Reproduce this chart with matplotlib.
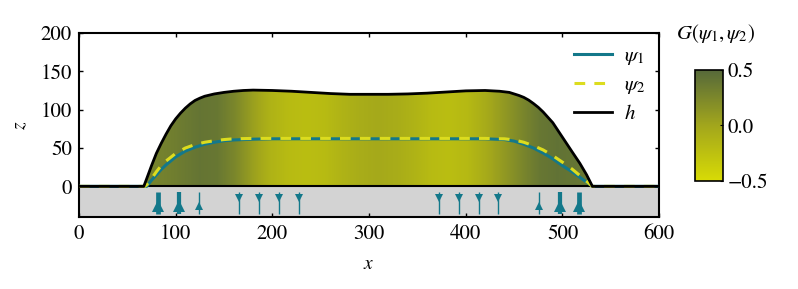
import numpy as np
import matplotlib
matplotlib.use("Agg")
import matplotlib.pyplot as plt
from matplotlib.colors import LinearSegmentedColormap, Normalize
from matplotlib.patches import Polygon

plt.rcParams['font.family'] = ['STIXGeneral', 'Liberation Serif', 'DejaVu Serif']
plt.rcParams['mathtext.fontset'] = 'stix'

# ---- data ----
h_x = [0, 60, 67, 70, 75, 80, 85, 90, 95, 100, 105, 110, 115, 120, 125, 130, 140, 150, 160,
       170, 180, 200, 220, 240, 260, 280, 300, 320, 340, 360, 380, 400, 420, 435, 445, 450,
       455, 460, 465, 470, 475, 480, 490, 500, 510, 518, 525, 531, 540, 600]
h_z = [0, 0, 0, 10, 27, 43, 56, 68, 79, 88, 95.5, 102, 107.5, 112, 115, 117.5, 120.5, 122.5,
       124, 125, 125.5, 125, 124, 122.5, 121, 120, 120, 120, 120.5, 121.5, 123, 124.5, 125,
       124, 122.5, 120.5, 118.5, 116, 112.5, 108, 103, 97, 83, 64, 45, 30, 15, 0, 0, 0]

psi_x = [0, 68, 70, 75, 80, 85, 90, 100, 110, 120, 130, 140, 150, 160, 180, 200, 300,
         420, 440, 450, 460, 470, 480, 490, 500, 510, 520, 531, 600]
psi1_z = [0, 0, 0, 8, 15, 22, 28, 38.5, 46, 51, 55, 57.5, 59.5, 60.5, 61.5, 62, 62,
          62, 61, 59, 55, 50, 43.5, 36, 27, 19, 10, 0, 0]
psi2_z = [0, 0, 2, 10, 19, 27, 33, 43, 50, 54.5, 57.5, 59.5, 61, 62, 62.5, 62.5, 62.5,
          62.5, 62, 60.5, 57.5, 53, 47.5, 40, 31.5, 22.5, 12, 0, 0]

g_x = [60, 70, 85, 100, 115, 125, 135, 145, 160, 180, 200, 230, 260, 300, 340, 370,
       400, 420, 440, 455, 465, 475, 490, 505, 520, 540]
g_val = [0.28, 0.3, 0.35, 0.4, 0.38, 0.25, 0.05, -0.12, -0.2, -0.22, -0.2, -0.12, -0.06,
         -0.03, -0.06, -0.12, -0.2, -0.22, -0.18, -0.05, 0.1, 0.25, 0.38, 0.42, 0.4, 0.35]

arrow_x = [82, 103, 124, 165.5, 186, 207, 227.5, 372.5, 393, 413.5, 433.5, 476, 497, 517]
arrow_dir = [1, 1, 1, -1, -1, -1, -1, -1, -1, -1, -1, 1, 1, 1]
arrow_mag = [1.0, 0.9, 0.35, 0.3, 0.3, 0.3, 0.3, 0.3, 0.3, 0.3, 0.3, 0.35, 0.9, 1.0]

teal = '#13788a'
yel = '#dcdc1e'

fig = plt.figure(figsize=(7.98, 2.89), dpi=100)
ax = fig.add_axes([0.099, 0.249, 0.727, 0.637])

cmap = LinearSegmentedColormap.from_list('g', ['#d8db05', '#a2a61c', '#56693a'])
norm = Normalize(-0.5, 0.5)

# gradient fill under h
xs = np.array(g_x, dtype=float)
gv = np.array(g_val, dtype=float)
img = ax.imshow(gv[np.newaxis, :], extent=[xs[0], xs[-1], 0, 130], aspect='auto',
                cmap=cmap, norm=norm, interpolation='bilinear', origin='lower', zorder=1)
poly = Polygon(np.column_stack([h_x, h_z]), closed=True, facecolor='none', edgecolor='none')
ax.add_patch(poly)
img.set_clip_path(poly)

# ground
ax.axhspan(-40, 0, color='#d3d3d3', zorder=0)
ax.axhline(0, color='black', lw=1.5, zorder=2)

ax.plot(psi_x, psi1_z, color=teal, lw=2.2, zorder=3, label=r'$\psi_1$')
ax.plot(psi_x, psi2_z, color=yel, lw=2.2, ls=(0, (3.5, 3)), zorder=4, label=r'$\psi_2$')
ax.plot(h_x, h_z, color='black', lw=2, zorder=5, label=r'$h$', solid_joinstyle='round')

# arrows in ground
for xa, d, m in zip(arrow_x, arrow_dir, arrow_mag):
    lw = 1.0 + 2.4 * (m - 0.35) / 0.65 if m > 0.35 else 1.0
    ax.plot([xa, xa], [-8, -36], color=teal, lw=lw, solid_capstyle='butt', zorder=3)
    if d > 0:
        ax.plot(xa, -25, marker='^', color=teal, ms=4 + 5 * m, mew=0, zorder=4)
    else:
        ax.plot(xa, -15, marker='v', color=teal, ms=5.5, mew=0, zorder=4)

ax.set_xlim(0, 600)
ax.set_ylim(-40, 200)
ax.set_xticks([0, 100, 200, 300, 400, 500, 600])
ax.set_yticks([0, 50, 100, 150, 200])
ax.tick_params(direction='in', top=True, right=True, labelsize=15, length=3, width=1, pad=5)
for s in ax.spines.values():
    s.set_linewidth(1.5)
ax.set_xlabel(r'$x$', fontsize=14, labelpad=9)
ax.set_ylabel(r'$z$', fontsize=14, labelpad=8)

ax.legend(loc='upper right', frameon=False, fontsize=15, handlelength=1.8,
          borderaxespad=0.25, labelspacing=0.4, handletextpad=0.6)

cax = fig.add_axes([0.871, 0.374, 0.035, 0.384])
cb = fig.colorbar(img, cax=cax, ticks=[-0.5, 0.0, 0.5])
cb.ax.tick_params(labelsize=15, direction='in', length=2)
cb.ax.set_yticklabels(['\u22120.5', '0.0', '0.5'])
cb.outline.set_linewidth(1.2)
fig.text(0.897, 0.885, r'$G(\psi_1,\psi_2)$', fontsize=15, ha='center', va='center')

fig.savefig('out.png', dpi=100)
